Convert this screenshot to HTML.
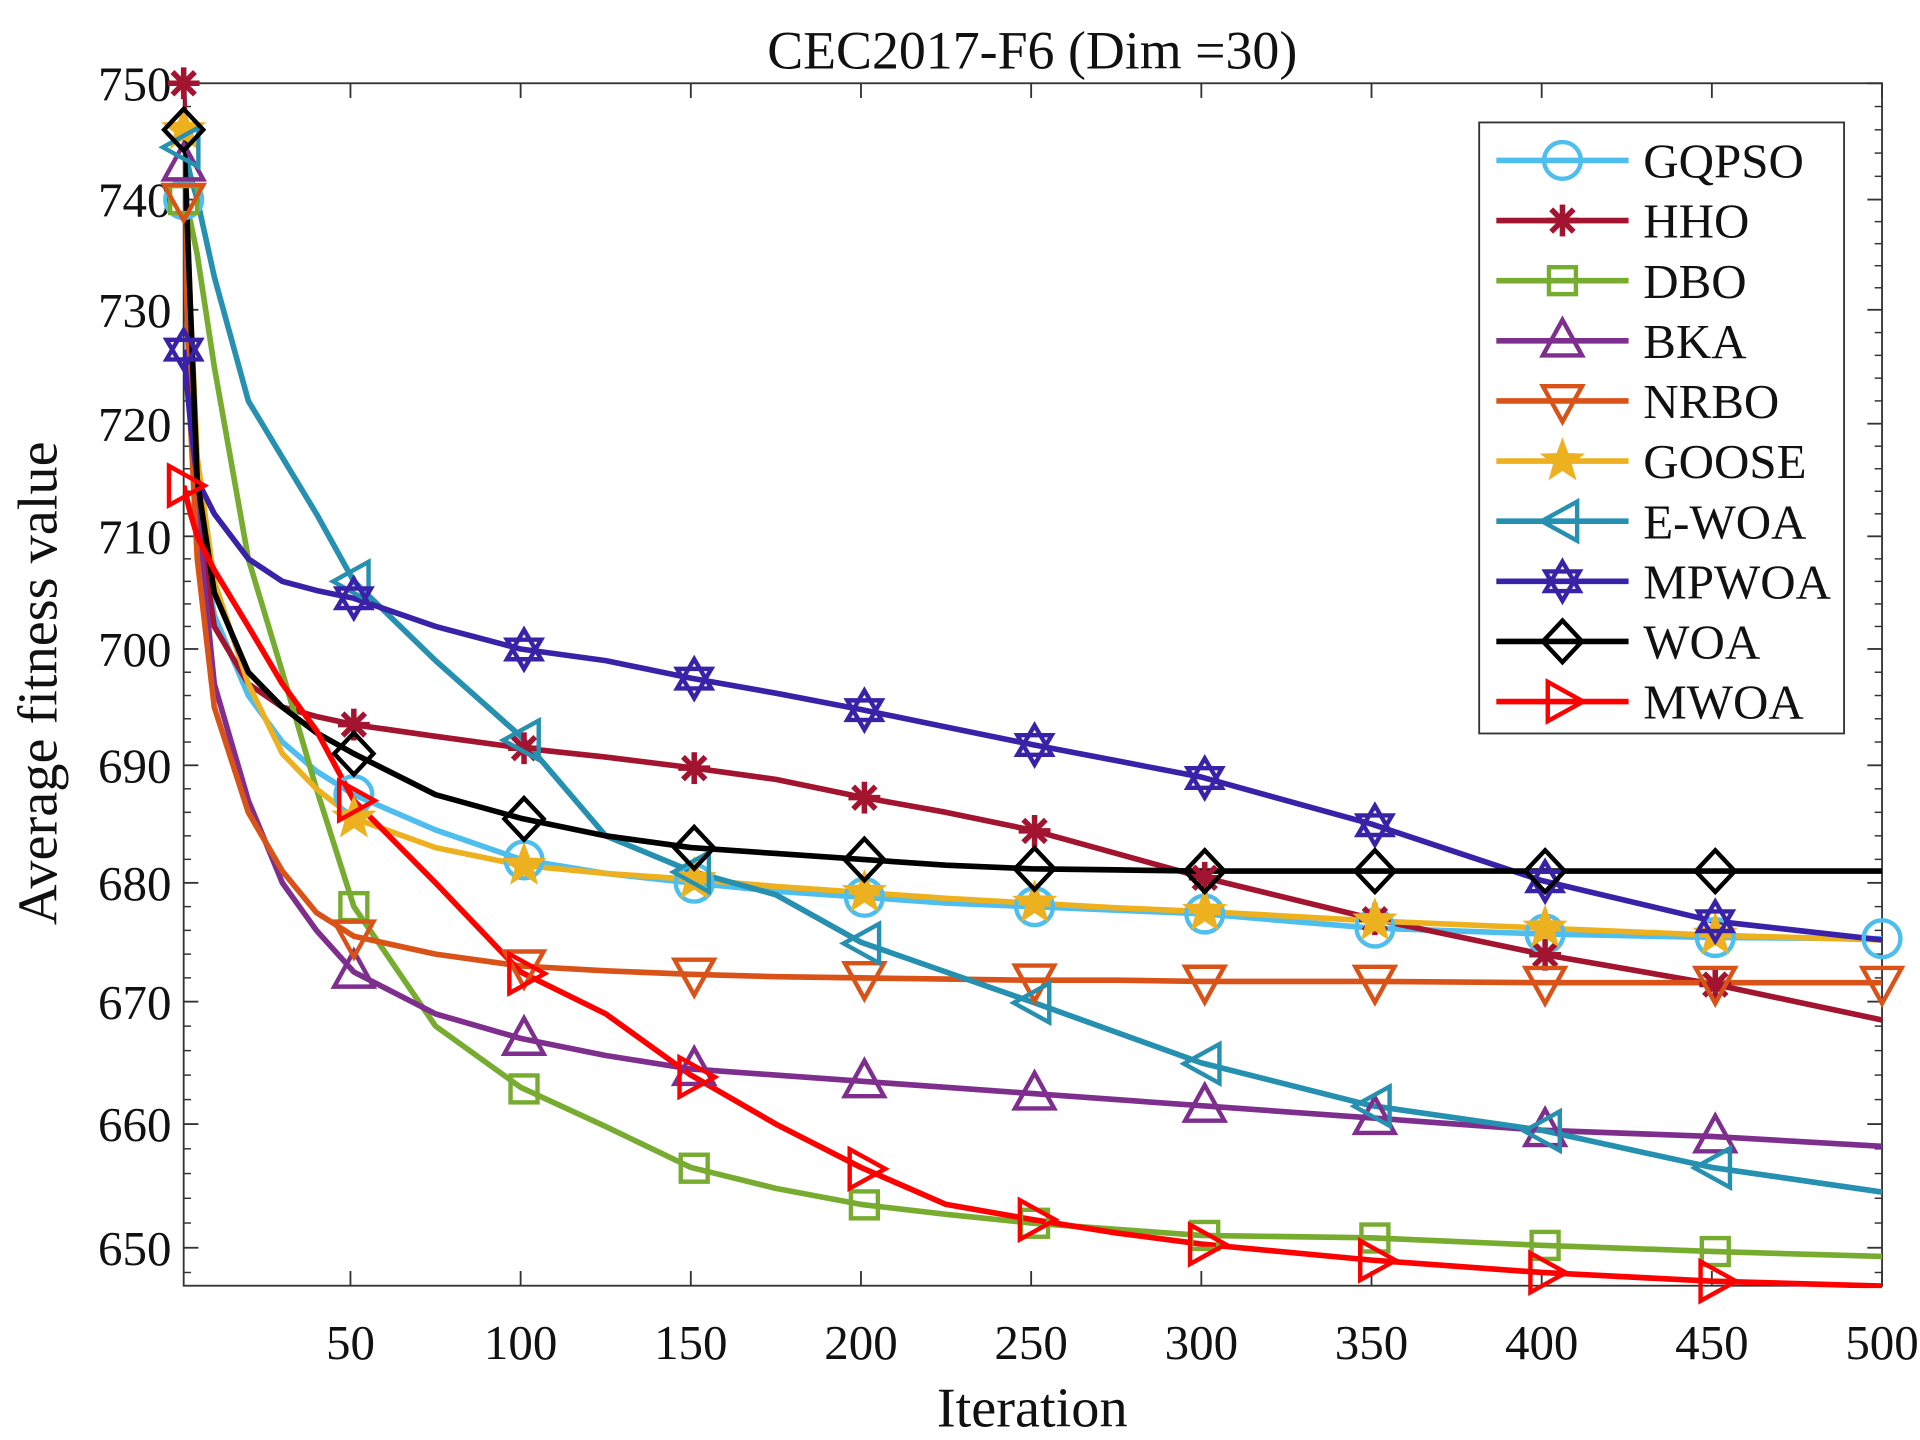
<!DOCTYPE html>
<html><head><meta charset="utf-8"><style>
html,body{margin:0;padding:0;background:#fff;}
svg{display:block;}
text{font-family:"Liberation Serif",serif;fill:#111;}
</style></head><body>
<svg id="chart" width="1920" height="1440" viewBox="0 0 1568 1176" preserveAspectRatio="none" xmlns="http://www.w3.org/2000/svg">
<rect x="0" y="0" width="1568" height="1176" fill="#fff"/>
<text x="843" y="56" font-size="44" text-anchor="middle">CEC2017-F6 (Dim =30)</text>
<g id="axes"></g>
<g id="series" clip-path="url(#clip)"></g>
<g id="markers"></g>
<defs><clipPath id="clip"><rect x="150" y="60" width="1395" height="992"/></clipPath></defs>
<text x="843" y="1165" font-size="46" text-anchor="middle">Iteration</text>
<text transform="translate(46,558) rotate(-90)" font-size="46" text-anchor="middle">Average fitness value</text>
<g id="legend"></g>
</svg>
<script>
const iters = [1,3,5,10,20,30,40,51,75,100,125,150,175,200,225,250,275,300,350,400,450,500];
const names = ["GQPSO","HHO","DBO","BKA","NRBO","GOOSE","E-WOA","MPWOA","WOA","MWOA"];
const gqpso = [740,728,712,703,696,692,689.5,687.5,684.5,682,680.8,680,679.3,678.8,678.3,678,677.7,677.4,676.2,675.7,675.4,675.3];
const hho   = [750,725,712,702,697,695,694.2,693.5,692.5,691.5,690.7,689.8,688.8,687.3,686,684.5,682.5,680.5,677,674,671.5,668.5];
const dbo   = [740,738,735,725,708,698,688,678,668,663,659.8,656.5,654.8,653.5,652.7,652,651.5,651,650.8,650.2,649.7,649.3];
const bka   = [743,725,712,697,687,680,676,672.5,669,667,665.6,664.5,664,663.5,663,662.5,662,661.5,660.5,659.5,659,658.2];
const nrbo  = [740,720,708,695,686,681,677.5,675.5,674,673,672.6,672.3,672.1,672,671.9,671.8,671.8,671.7,671.7,671.6,671.6,671.6];
const goose = [746,730,717,706,697,691,688,685.5,683,681.5,680.8,680.3,679.7,679.2,678.7,678.3,677.9,677.6,676.8,676.2,675.6,675.2];
const ewoa  = [744.5,742,740,733,722,717,712,706,699,692.5,684,681,679,675,672.5,670,667.5,665,661.5,659.5,656.5,654.5];
const mpwoa = [726.5,720,715,712,708,706,705.2,704.5,702,700,699,697.5,696.2,694.8,693.3,691.8,690.4,689,685,680.2,676.8,675.2];
const woa   = [746,730,715,705,698,695,692.8,691,687.5,685.5,684,683,682.5,682,681.5,681.2,681.1,681,681,681,681,681];
const mwoa  = [714.5,712,710,707,702,697,693,687,680,672.5,669,664,660,656.5,653.5,652.3,651.2,650.3,649,648,647.3,646.9];
const yTicks = [650,660,670,680,690,700,710,720,730,740,750];
const xTicks = [50,100,150,200,250,300,350,400,450,500];
const allSeries = [gqpso,hho,dbo,bka,nrbo,goose,ewoa,mpwoa,woa,mwoa];
const colors = ["#4DBEEE","#A2142F","#77AC30","#7E2F8E","#D95319","#EDB120","#2690B0","#3A22A8","#000000","#FF0000"];
const mtypes = ["circle","asterisk","square","triangle-up","triangle-down","star","triangle-left","hexagram","diamond","triangle-right"];
const markerIters = [1,51,101,151,201,251,301,351,401,451];
const NS="http://www.w3.org/2000/svg";
const tickPx = [1019,918,818,721,625,530,438,346,253,163,68];
const X0=150,X1=1537,Y0=1050,Y1=68;
function xs(i){return X0+(i-1)/(499)*(X1-X0);}
function ys(v){
  if(v<=650) return 1019+(650-v)*10.1;
  for(let k=0;k<yTicks.length-1;k++){
    if(v<=yTicks[k+1]){const t=(v-yTicks[k])/(yTicks[k+1]-yTicks[k]);return tickPx[k]+t*(tickPx[k+1]-tickPx[k]);}
  }
  return 68-(v-750)*9.5;
}
function valAt(s,i){
  for(let k=0;k<iters.length-1;k++){
    if(i<=iters[k+1]){const t=(i-iters[k])/(iters[k+1]-iters[k]);return s[k]+t*(s[k+1]-s[k]);}
  }
  return s[s.length-1];
}
function mk(tag,attrs,parent){const e=document.createElementNS(NS,tag);for(const k in attrs)e.setAttribute(k,attrs[k]);parent.appendChild(e);return e;}
const axes=document.getElementById('axes');
const box=mk('rect',{x:X0,y:Y1,width:X1-X0,height:Y0-Y1,fill:'none',stroke:'#333','stroke-width':1.5},axes);


yTicks.forEach((v,k)=>{
  const y=ys(v);
  mk('line',{x1:X0,x2:X0+12,y1:y,y2:y,stroke:'#333','stroke-width':1.5},axes);
  mk('line',{x1:X1,x2:X1-12,y1:y,y2:y,stroke:'#333','stroke-width':1.5},axes);
  const t=mk('text',{x:X0-10,y:y+14,'font-size':40,'text-anchor':'end'},axes);
  t.textContent=v;
  
  
});
for(let v=648;v<750;v+=2){ if(v%10===0) continue; const y=ys(v); if(y>Y0) continue;
  mk('line',{x1:X0,x2:X0+6,y1:y,y2:y,stroke:'#333','stroke-width':1.2},axes);
  mk('line',{x1:X1,x2:X1-6,y1:y,y2:y,stroke:'#333','stroke-width':1.2},axes);
}
xTicks.forEach(v=>{
  const x=xs(v);
  mk('line',{x1:x,x2:x,y1:Y0,y2:Y0-12,stroke:'#333','stroke-width':1.5},axes);
  mk('line',{x1:x,x2:x,y1:Y1,y2:Y1+12,stroke:'#333','stroke-width':1.5},axes);
  const t=mk('text',{x:x,y:1110,'font-size':40,'text-anchor':'middle'},axes);
  t.textContent=v;
  
  
});
function marker(type,x,y,c,parent){
  const r=15,sw=3.6;let e;
  const st={fill:'none',stroke:c,'stroke-width':sw};
  if(type==='circle') e=mk('circle',Object.assign({cx:x,cy:y,r:r},st),parent);
  else if(type==='square') e=mk('rect',Object.assign({x:x-11,y:y-11,width:22,height:22},st),parent);
  else if(type==='diamond') e=mk('polygon',Object.assign({points:`${x},${y-17} ${x+16},${y} ${x},${y+17} ${x-16},${y}`},st),parent);
  else if(type==='triangle-up') e=mk('polygon',Object.assign({points:`${x},${y-17} ${x+16},${y+12} ${x-16},${y+12}`},st),parent);
  else if(type==='triangle-down') e=mk('polygon',Object.assign({points:`${x},${y+17} ${x+16},${y-12} ${x-16},${y-12}`},st),parent);
  else if(type==='triangle-left') e=mk('polygon',Object.assign({points:`${x-17},${y} ${x+12},${y-16} ${x+12},${y+16}`},st),parent);
  else if(type==='triangle-right') e=mk('polygon',Object.assign({points:`${x+17},${y} ${x-12},${y-16} ${x-12},${y+16}`},st),parent);
  else if(type==='asterisk'){ e=mk('g',{},parent);
    for(let a=0;a<180;a+=45){const dx=13*Math.cos(a*Math.PI/180),dy=13*Math.sin(a*Math.PI/180);
      mk('line',{x1:x-dx,y1:y-dy,x2:x+dx,y2:y+dy,stroke:c,'stroke-width':4.5},e);} }
  else if(type==='star'){ let p=[];for(let k=0;k<10;k++){const a=-Math.PI/2+k*Math.PI/5,rr=k%2?7.5:18;p.push((x+rr*Math.cos(a)).toFixed(1)+','+(y+rr*Math.sin(a)).toFixed(1));}
    e=mk('polygon',{points:p.join(' '),fill:c,stroke:c,'stroke-width':1},parent);}
  else if(type==='hexagram'){ e=mk('g',{},parent);
    mk('polygon',Object.assign({points:`${x},${y-16} ${x+14},${y+8} ${x-14},${y+8}`},st),e);
    mk('polygon',Object.assign({points:`${x},${y+16} ${x+14},${y-8} ${x-14},${y-8}`},st),e);}
  return e;
}
const sg=document.getElementById('series'),mg=document.getElementById('markers');
allSeries.forEach((s,si)=>{
  const pts=iters.map((it,k)=>xs(it).toFixed(1)+','+ys(s[k]).toFixed(1)).join(' ');
  const pl=mk('polyline',{points:pts,fill:'none',stroke:colors[si],'stroke-width':4.6,'stroke-linejoin':'round'},sg);
  
  
  let mi=markerIters.slice(); if(si===0||si===4) mi.push(500);
  mi.forEach(it=>{
    const m=marker(mtypes[si],xs(it),ys(valAt(s,it)),colors[si],mg);
    
    
  });
});
const lg=document.getElementById('legend');
const lb=mk('rect',{x:1208,y:100,width:298,height:499,fill:'#fff',stroke:'#333','stroke-width':1.5},lg);


names.forEach((n,k)=>{
  const y=131+k*49.1;
  const g=mk('g',{},lg);
  
  
  mk('line',{x1:1222,x2:1330,y1:y,y2:y,stroke:colors[k],'stroke-width':4.6},g);
  marker(mtypes[k],1276,y,colors[k],g);
  const t=mk('text',{x:1342,y:y+14,'font-size':40},g);
  t.textContent=n;
});
</script>
</body></html>
